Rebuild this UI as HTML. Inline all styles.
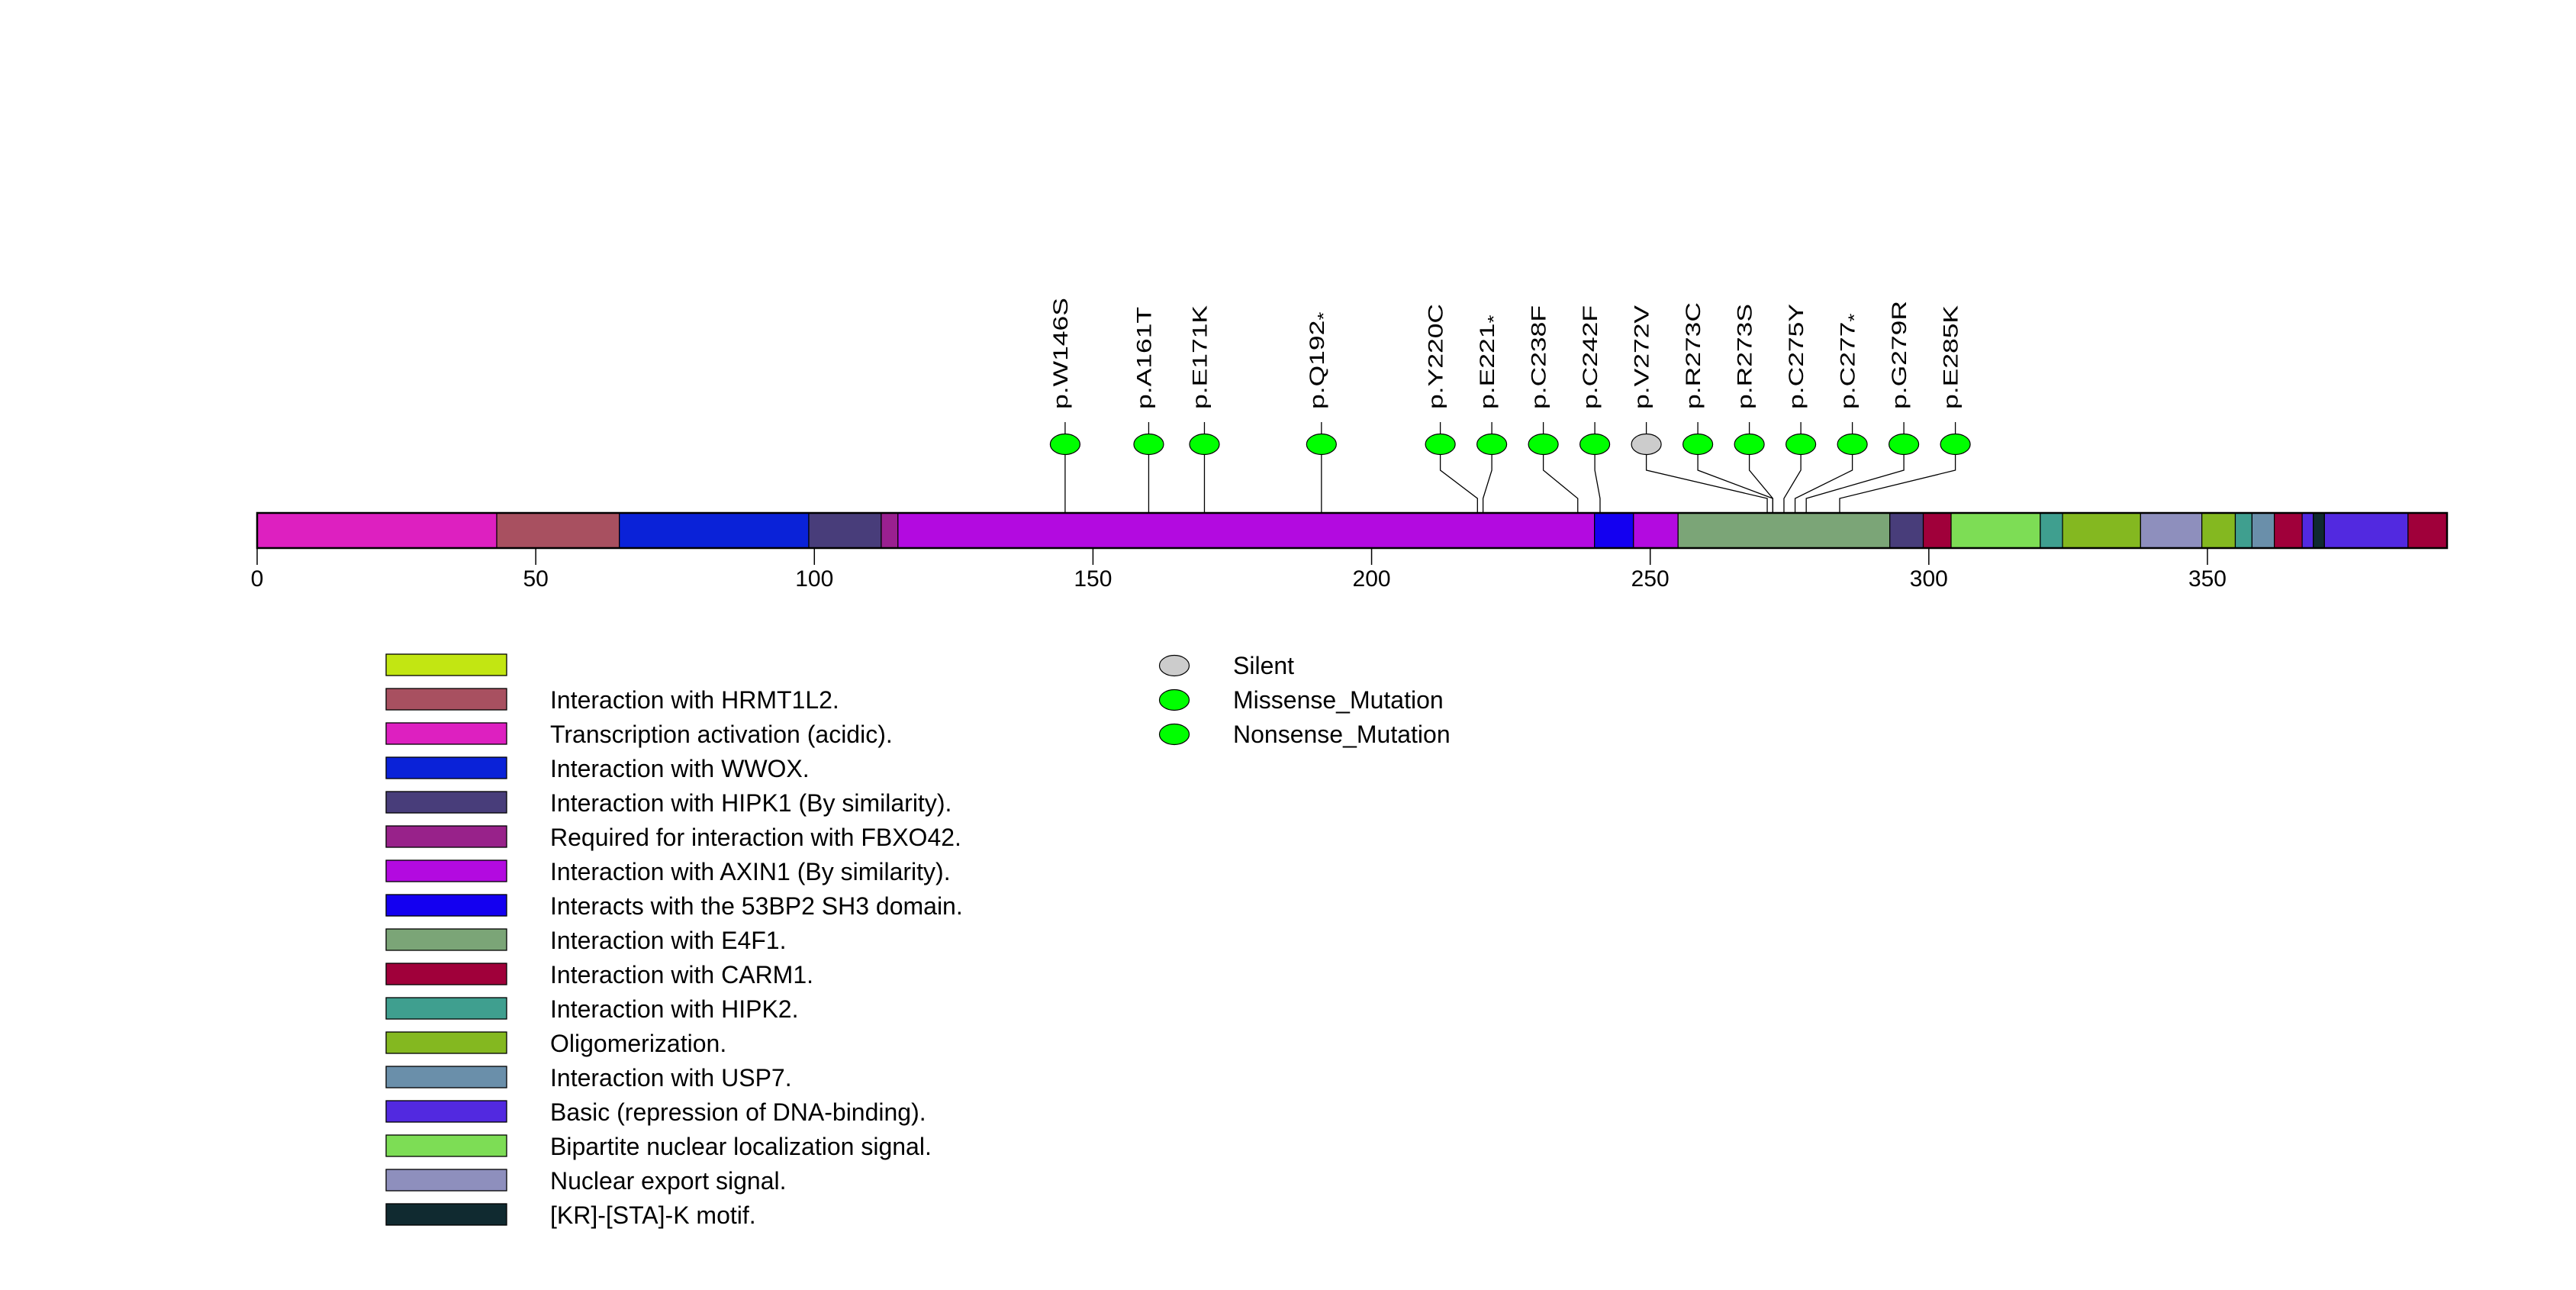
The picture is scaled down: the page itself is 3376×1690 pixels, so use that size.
<!DOCTYPE html>
<html><head><meta charset="utf-8"><style>
html,body{margin:0;padding:0;background:#fff;}
svg{display:block;font-family:"Liberation Sans",sans-serif;}
</style></head><body>
<svg id="chart" width="3376" height="1690" viewBox="0 0 3376 1690" xmlns="http://www.w3.org/2000/svg">
<g id="stems"></g>
<g id="bar"></g>
<g id="axis"></g>
<g id="muts"></g>
<g id="legend"></g>
<g id="mlegend"></g>
</svg>
<script>
const proteinLength = 393;
const domainStarts = [0, 43, 65, 99, 112, 115, 240, 247, 255, 293, 299, 304, 320, 324, 338, 349, 355, 358, 362, 367, 369, 371, 386];
const domainEnds   = [43, 65, 99, 112, 115, 240, 247, 255, 293, 299, 304, 320, 324, 338, 349, 355, 358, 362, 367, 369, 371, 386, 393];
const domainColors = ["#dd20c0","#a85060","#0a22d8","#483d7a","#9a2090","#b30ae0","#1400f0","#b30ae0","#7ba577","#483d7a","#a0003a","#7ddd55","#3f9f8f","#84b820","#8e8fbd","#84b820","#3f9f8f","#6a8faa","#a0003a","#5229e0","#102a30","#5229e0","#a0003a"];
const ticks = [0, 50, 100, 150, 200, 250, 300, 350];
const mutPositions = [146, 161, 171, 192, 220, 221, 238, 242, 272, 273, 273, 275, 277, 279, 285];
const mutLabels = ["p.W146S","p.A161T","p.E171K","p.Q192","p.Y220C","p.E221","p.C238F","p.C242F","p.V272V","p.R273C","p.R273S","p.C275Y","p.C277","p.G279R","p.E285K"];
const mutStars = [0,0,0,1,0,1,0,0,0,0,0,0,1,0,0];
const mutTypes = ["Missense","Missense","Missense","Nonsense","Missense","Nonsense","Missense","Missense","Silent","Missense","Missense","Missense","Nonsense","Missense","Missense"];
const legendLabels = ["","Interaction with HRMT1L2.","Transcription activation (acidic).","Interaction with WWOX.","Interaction with HIPK1 (By similarity).","Required for interaction with FBXO42.","Interaction with AXIN1 (By similarity).","Interacts with the 53BP2 SH3 domain.","Interaction with E4F1.","Interaction with CARM1.","Interaction with HIPK2.","Oligomerization.","Interaction with USP7.","Basic (repression of DNA-binding).","Bipartite nuclear localization signal.","Nuclear export signal.","[KR]-[STA]-K motif."];
const legendColors = ["#c2e612","#a85060","#dd20c0","#0a22d8","#483d7a","#98228a","#b30ae0","#1400f0","#7ba577","#a0003a","#3f9f8f","#84b820","#6a8faa","#5229e0","#7ddd55","#8e8fbd","#102a30"];
const typeNames = ["Silent","Missense_Mutation","Nonsense_Mutation"];
const typeColors = ["#cccccc","#00ff00","#00ff00"];

const NS="http://www.w3.org/2000/svg";
const X0=337, X1=3207, BAR_T=672, BAR_B=718;
function xs(v){return X0+(X1-X0)*v/proteinLength;}
function mk(tag,attrs,parent){const e=document.createElementNS(NS,tag);for(const k in attrs)e.setAttribute(k,attrs[k]);parent.appendChild(e);return e;}
const gBar=document.getElementById('bar'),gAxis=document.getElementById('axis'),gSt=document.getElementById('stems'),gM=document.getElementById('muts'),gL=document.getElementById('legend'),gML=document.getElementById('mlegend');

for(let i=0;i<domainStarts.length;i++){
  const r=mk('rect',{x:xs(domainStarts[i]),y:BAR_T,width:xs(domainEnds[i])-xs(domainStarts[i]),height:BAR_B-BAR_T,fill:domainColors[i],stroke:'#000','stroke-width':1.2},gBar);
  
  
}
const outline=mk('rect',{x:X0,y:BAR_T,width:X1-X0,height:BAR_B-BAR_T,fill:'none',stroke:'#000','stroke-width':2.5},gBar);



ticks.forEach(t=>{
  const l=mk('line',{x1:xs(t),x2:xs(t),y1:BAR_B,y2:740,stroke:'#000','stroke-width':1.5},gAxis);
  
  
  const tx=mk('text',{x:xs(t),y:768,'text-anchor':'middle','font-size':30,fill:'#000'},gAxis);
  tx.textContent=t;
  
  
});

const SP=67.5;
const targets=mutPositions.map(p=>xs(p-1));
let groups=targets.map((t,i)=>({idx:[i],sum:t}));
let changed=true;
function place(g){const n=g.idx.length;const c=g.sum/n;return c-(n-1)*SP/2;}
while(changed){changed=false;
  for(let i=0;i<groups.length-1;i++){
    const a=groups[i],b=groups[i+1];
    const aEnd=place(a)+(a.idx.length-1)*SP;
    if(place(b)-aEnd<SP-0.01){groups.splice(i,2,{idx:a.idx.concat(b.idx),sum:a.sum+b.sum});changed=true;break;}
  }
}
const dispX=[];
groups.forEach(g=>{const s=place(g);g.idx.forEach((k,j)=>dispX[k]=s+j*SP);});

mutPositions.forEach((p,i)=>{
  const xa=targets[i],xd=dispX[i];
  const pl=mk('polyline',{points:`${xd},553 ${xd},616 ${xa},653 ${xa},${BAR_B}`,fill:'none',stroke:'#000','stroke-width':1.3},gSt);
  
  
  const col=mutTypes[i]==='Silent'?typeColors[0]:(mutTypes[i]==='Missense'?typeColors[1]:typeColors[2]);
  const el=mk('ellipse',{cx:xd,cy:582,rx:19.5,ry:13.5,fill:col,stroke:'#000','stroke-width':1.2},gM);
  
  
  const tx=mk('text',{transform:`translate(${xd+3},536) rotate(-90) scale(1.42,1.08)`,'font-size':25,fill:'#000'},gM);
  tx.textContent=mutLabels[i];
  
  
  if(mutStars[i]){const ts=mk('tspan',{'font-size':20,dy:6},tx);ts.textContent='*';}
});

legendLabels.forEach((lab,i)=>{
  const y=857+i*45;
  const r=mk('rect',{x:506,y:y,width:158,height:28,fill:legendColors[i],stroke:'#000','stroke-width':1.3},gL);
  
  
  const t=mk('text',{x:721,y:y+26,'font-size':32,fill:'#000'},gL);
  t.textContent=lab;
  
  
});

typeNames.forEach((n,i)=>{
  const y=872+i*45;
  const e=mk('ellipse',{cx:1539,cy:y,rx:19.5,ry:13.5,fill:typeColors[i],stroke:'#000','stroke-width':1.2},gML);
  
  
  const t=mk('text',{x:1616,y:y+11,'font-size':32,fill:'#000'},gML);
  t.textContent=n;
  
  
});
</script>
</body></html>
